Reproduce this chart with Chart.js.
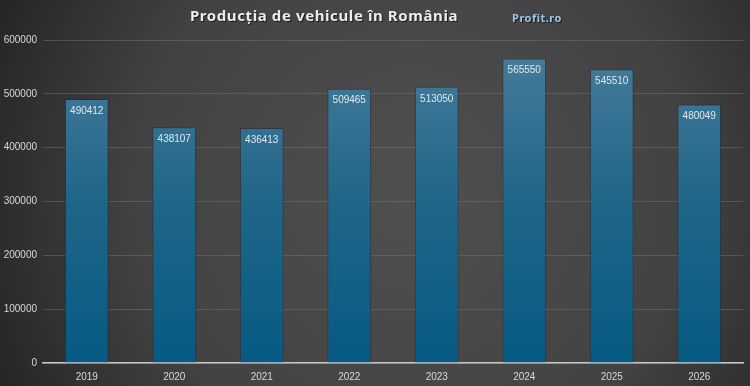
<!DOCTYPE html>
<html>
<head>
<meta charset="utf-8">
<script src="https://cdn.jsdelivr.net/npm/chart.js@4"></script>
<style>
  html, body { margin: 0; padding: 0; background: #333; }
  #wrap { width: 750px; height: 386px; position: relative; }
</style>
</head>
<body>
<div id="wrap"><canvas id="chart"></canvas></div>
<script>
// vehicle production, Romania
const years = ['2019', '2020', '2021', '2022', '2023', '2024', '2025', '2026'];
const units = [490412, 438107, 436413, 509465, 513050, 565550, 545510, 480049];
const yTicks = [0, 100000, 200000, 300000, 400000, 500000, 600000];

const titleText = 'Producția de vehicule în România';
const brandText = 'Profit.ro';

// dark radial background + title, drawn on the canvas itself
const backdrop = {
  id: 'backdrop',
  beforeDraw(chart) {
    const ctx = chart.ctx;
    const w = chart.width, h = chart.height;
    ctx.save();
    const g = ctx.createRadialGradient(w * 0.55, h * 0.5, 20, w * 0.55, h * 0.5, w * 0.6);
    g.addColorStop(0, '#4f4f4f');
    g.addColorStop(0.6, '#424242');
    g.addColorStop(1, '#262626');
    ctx.fillStyle = g;
    ctx.fillRect(0, 0, w, h);

    ctx.fillStyle = '#ececec';
    ctx.font = 'bold 15px "Noto Sans"';
    ctx.letterSpacing = '0.6px';
    ctx.textAlign = 'center';
    ctx.textBaseline = 'middle';
    ctx.shadowColor = 'rgba(0,0,0,0.6)';
    ctx.shadowOffsetX = 1;
    ctx.shadowOffsetY = 1;
    ctx.fillText(titleText, 324, 17);

    ctx.fillStyle = '#9cc9e6';
    ctx.font = 'bold 11px "Noto Sans"';
    ctx.letterSpacing = '0.5px';
    ctx.fillText(brandText, 537, 19);
    ctx.restore();
  }
};

// value written inside the top of each bar
const barLabels = {
  id: 'barLabels',
  afterDatasetsDraw(chart) {
    const ctx = chart.ctx;
    const meta = chart.getDatasetMeta(0);
    ctx.save();
    ctx.fillStyle = '#dfe8ef';
    ctx.font = '10px "Liberation Sans"';
    ctx.textAlign = 'center';
    ctx.textBaseline = 'middle';
    meta.data.forEach((bar, i) => {
      ctx.fillText(String(units[i]), bar.x, bar.y + 12);
    });
    ctx.restore();
  }
};

function barFill(context) {
  const area = context.chart.chartArea;
  if (!area) return '#2a6a90';
  const g = context.chart.ctx.createLinearGradient(0, area.top, 0, area.bottom);
  g.addColorStop(0, '#4a7c9c');
  g.addColorStop(0.5, '#1f6688');
  g.addColorStop(1, '#065a84');
  return g;
}

new Chart(document.getElementById('chart'), {
  type: 'bar',
  data: {
    labels: years,
    datasets: [{
      data: units,
      backgroundColor: barFill,
      borderColor: 'rgba(20,40,55,0.5)',
      borderWidth: 1,
      barPercentage: 0.5,
      categoryPercentage: 1.0
    }]
  },
  options: {
    responsive: true,
    maintainAspectRatio: false,
    animation: false,
    layout: { padding: { top: 40, right: 7, left: 0, bottom: 0 } },
    plugins: {
      legend: { display: false },
      title: { display: false },
      tooltip: { enabled: false }
    },
    scales: {
      x: {
        grid: { display: false, drawTicks: false },
        border: { display: true, color: '#c8c8c8', width: 1.5 },
        ticks: {
          color: '#d8d8d8',
          font: { family: 'Liberation Sans', size: 10 },
          padding: 8
        },
        afterFit(scale) { scale.height = 23; }
      },
      y: {
        min: 0,
        max: 600000,
        afterBuildTicks(scale) { scale.ticks = yTicks.map(v => ({ value: v })); },
        grid: { color: 'rgba(120,120,120,0.45)', drawTicks: false },
        border: { display: false },
        ticks: {
          color: '#d8d8d8',
          font: { family: 'Liberation Sans', size: 10 },
          padding: 6,
          callback: v => String(v)
        },
        afterFit(scale) { scale.width = 43; }
      }
    }
  },
  plugins: [backdrop, barLabels]
});
</script>
</body>
</html>
